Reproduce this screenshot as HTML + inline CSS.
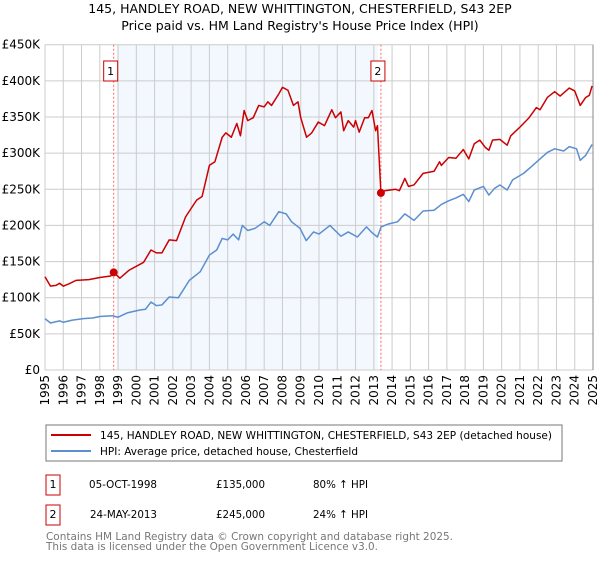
<!DOCTYPE html>
<html><head><meta charset="utf-8"><style>
body{margin:0;background:#fff;}
svg text{font-family:"DejaVu Sans","Liberation Sans",sans-serif;}
</style></head><body>
<svg id="chart" width="600" height="560" xmlns="http://www.w3.org/2000/svg">
<text x="300" y="13" font-size="12.5" text-anchor="middle" fill="#000">145, HANDLEY ROAD, NEW WHITTINGTON, CHESTERFIELD, S43 2EP</text>
<text x="300" y="30" font-size="12.5" text-anchor="middle" fill="#000">Price paid vs. HM Land Registry's House Price Index (HPI)</text>
<g id="plot"></g>
<g>
<rect x="46" y="425" width="516" height="36" fill="#fff" stroke="#777"/>
<line x1="51" y1="435" x2="91" y2="435" stroke="#cc0000" stroke-width="2"/>
<text x="100" y="439" font-size="11" textLength="452" lengthAdjust="spacingAndGlyphs">145, HANDLEY ROAD, NEW WHITTINGTON, CHESTERFIELD, S43 2EP (detached house)</text>
<line x1="51" y1="451" x2="91" y2="451" stroke="#5b8fd0" stroke-width="2"/>
<text x="100" y="455" font-size="11" textLength="258" lengthAdjust="spacingAndGlyphs">HPI: Average price, detached house, Chesterfield</text>
</g>
<g>
<rect x="46" y="475" width="14" height="20" fill="#fff" stroke="#cc0000"/>
<text x="53" y="488" font-size="11" text-anchor="middle">1</text>
<text x="89" y="488" font-size="11" textLength="68" lengthAdjust="spacingAndGlyphs">05-OCT-1998</text>
<text x="216" y="488" font-size="11" textLength="49" lengthAdjust="spacingAndGlyphs">£135,000</text>
<text x="313" y="488" font-size="11" textLength="55" lengthAdjust="spacingAndGlyphs">80% ↑ HPI</text>
<rect x="46" y="505" width="14" height="20" fill="#fff" stroke="#cc0000"/>
<text x="53" y="518" font-size="11" text-anchor="middle">2</text>
<text x="90" y="518" font-size="11" textLength="67" lengthAdjust="spacingAndGlyphs">24-MAY-2013</text>
<text x="216" y="518" font-size="11" textLength="49" lengthAdjust="spacingAndGlyphs">£245,000</text>
<text x="313" y="518" font-size="11" textLength="55" lengthAdjust="spacingAndGlyphs">24% ↑ HPI</text>
</g>
<text x="46" y="540" font-size="11" fill="#777" textLength="407" lengthAdjust="spacingAndGlyphs">Contains HM Land Registry data © Crown copyright and database right 2025.</text>
<text x="46" y="550" font-size="11" fill="#777" textLength="332" lengthAdjust="spacingAndGlyphs">This data is licensed under the Open Government Licence v3.0.</text>
</svg>
<script>
const yTicks=[0,50000,100000,150000,200000,250000,300000,350000,400000,450000];
const yTickLabels=["£0","£50K","£100K","£150K","£200K","£250K","£300K","£350K","£400K","£450K"];
const xYears=[1995,1996,1997,1998,1999,2000,2001,2002,2003,2004,2005,2006,2007,2008,2009,2010,2011,2012,2013,2014,2015,2016,2017,2018,2019,2020,2021,2022,2023,2024,2025];
const saleYears=[1998.76,2013.39];
const salePrices=[135000,245000];
const saleLabels=["1","2"];
const hpiYears=[1995.0,1995.3,1995.8,1996.0,1996.5,1997.1,1997.6,1998.0,1998.7,1999.0,1999.5,2000.2,2000.5,2000.8,2001.1,2001.4,2001.8,2002.3,2002.9,2003.5,2004.0,2004.4,2004.7,2005.0,2005.3,2005.6,2005.8,2006.1,2006.5,2007.0,2007.3,2007.8,2008.2,2008.5,2008.96,2009.3,2009.7,2010.0,2010.6,2011.2,2011.6,2012.1,2012.6,2012.9,2013.2,2013.4,2013.8,2014.3,2014.7,2015.2,2015.7,2016.3,2016.7,2017.1,2017.5,2017.9,2018.2,2018.5,2019.0,2019.3,2019.6,2019.9,2020.3,2020.6,2021.2,2021.7,2022.1,2022.5,2022.9,2023.4,2023.7,2024.1,2024.3,2024.6,2024.95];
const hpiValues=[71,65,68,66,69,71,72,74,75,73,79,83,84,94,89,90,101,100,124,136,159,166,182,180,188,180,200,193,196,205,200,219,216,205,196,179,191,188,200,185,191,184,198,190,184,198,202,205,216,207,220,221,229,234,238,243,233,249,254,242,251,256,249,263,272,283,292,301,306,303,309,306,290,297,312];
const priceYears=[1995.0,1995.3,1995.6,1995.8,1996.0,1996.3,1996.7,1997.4,1998.0,1998.6,1998.76,1999.1,1999.6,2000.4,2000.8,2001.1,2001.4,2001.8,2002.2,2002.7,2003.3,2003.6,2004.0,2004.3,2004.7,2004.9,2005.2,2005.5,2005.7,2005.9,2006.1,2006.4,2006.7,2007.0,2007.2,2007.4,2007.8,2008.0,2008.3,2008.6,2008.85,2009.0,2009.32,2009.6,2009.96,2010.3,2010.7,2010.9,2011.2,2011.35,2011.6,2011.9,2012.0,2012.2,2012.5,2012.7,2012.9,2013.1,2013.2,2013.39,2013.6,2014.2,2014.4,2014.7,2014.9,2015.2,2015.7,2016.3,2016.6,2016.7,2017.1,2017.5,2017.9,2018.2,2018.5,2018.8,2019.1,2019.3,2019.5,2019.9,2020.3,2020.5,2021.0,2021.5,2021.9,2022.1,2022.5,2022.9,2023.2,2023.7,2024.0,2024.3,2024.6,2024.8,2024.95];
const priceValues=[129,116,117,120,116,119,124,125,128,130,135,127,138,149,166,162,162,180,179,212,235,240,283,288,322,328,322,341,324,359,345,349,366,364,371,366,382,391,387,366,371,349,322,328,343,338,360,349,357,331,345,336,345,329,349,349,359,331,338,245,248,250,248,265,254,256,272,275,288,283,294,293,305,292,313,318,308,304,318,319,311,324,336,349,363,360,377,385,379,390,386,366,377,380,393];

const NS="http://www.w3.org/2000/svg";
const L=45,R=593,T=44.7,B=370;
const X=y=>L+(y-1995)/30*(R-L);
const Y=v=>B-v/450000*(B-T);
const plot=document.getElementById('plot');
function mk(tag,attrs,parent){const e=document.createElementNS(NS,tag);for(const k in attrs)e.setAttribute(k,attrs[k]);(parent||plot).appendChild(e);return e;}

const shade=mk('rect',{x:X(saleYears[0])+3,y:T,width:X(saleYears[1])-X(saleYears[0])-6,height:B-T,fill:'#f3f7fe'});



yTicks.forEach((v,i)=>{
  const g=mk('line',{x1:L,x2:R,y1:Y(v),y2:Y(v),stroke:'#cccccc','stroke-width':1});
  
  
  const t=mk('text',{x:40,y:Y(v)+4,'font-size':12,'text-anchor':'end',fill:'#000'});
  t.textContent=yTickLabels[i];
  
  
});
xYears.forEach(yr=>{
  const g=mk('line',{x1:X(yr),x2:X(yr),y1:T,y2:B,stroke:'#cccccc','stroke-width':1});
  
  
  const t=mk('text',{x:0,y:0,'font-size':12,'text-anchor':'end',transform:`translate(${X(yr)+4},375) rotate(-90)`});
  t.textContent=String(yr);
  
  
});
const rb=mk('line',{x1:R,x2:R,y1:T,y2:B,stroke:'#888','stroke-width':1});



saleYears.forEach((yr,i)=>{
  const l=mk('line',{x1:X(yr),x2:X(yr),y1:T,y2:B,stroke:'#ff6666','stroke-width':1,'stroke-dasharray':'2,2'});
  
  
  const r=mk('rect',{x:X(yr)-10,y:61,width:14,height:20,fill:'#fff',stroke:'#cc0000'});
  
  
  const t=mk('text',{x:X(yr)-3,y:75,'font-size':11,'text-anchor':'middle'});
  t.textContent=saleLabels[i];
  
  
});

const hp=mk('polyline',{points:hpiYears.map((y,i)=>X(y)+','+Y(hpiValues[i]*1000)).join(' '),fill:'none',stroke:'#5b8fd0','stroke-width':1.5,'stroke-linejoin':'round'});


const pp=mk('polyline',{points:priceYears.map((y,i)=>X(y)+','+Y(priceValues[i]*1000)).join(' '),fill:'none',stroke:'#cc0000','stroke-width':1.5,'stroke-linejoin':'round'});


saleYears.forEach((yr,i)=>{
  const c=mk('circle',{cx:X(yr),cy:Y(salePrices[i]),r:4,fill:'#cc0000'});
  
  
});
</script>
</body></html>
